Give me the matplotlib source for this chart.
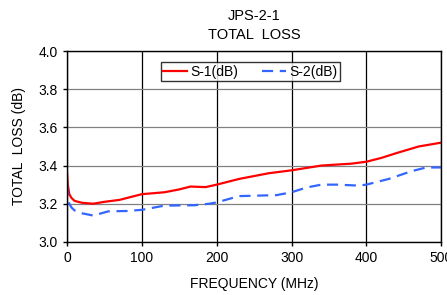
import matplotlib
matplotlib.use("Agg")
import matplotlib.pyplot as plt

plt.rcParams["font.family"] = ["Liberation Sans", "DejaVu Sans"]

# frequency points (MHz) and total loss (dB)
freq_s1 = [0, 1, 3, 6, 10, 20, 35, 50, 70, 100, 130, 150, 165, 185, 200,
           230, 270, 300, 340, 380, 400, 420, 440, 470, 500]
loss_s1 = [3.36, 3.30, 3.25, 3.23, 3.215, 3.205, 3.20, 3.21, 3.22, 3.25, 3.26,
           3.275, 3.29, 3.287, 3.30, 3.33, 3.36, 3.375, 3.40, 3.41, 3.42,
           3.44, 3.465, 3.50, 3.52]

freq_s2 = [0, 1, 3, 6, 10, 20, 35, 55, 80, 100, 130, 170, 190, 200, 230,
           280, 300, 320, 340, 360, 390, 400, 430, 460, 480, 500]
loss_s2 = [3.30, 3.24, 3.20, 3.18, 3.165, 3.15, 3.138, 3.16, 3.162, 3.168,
           3.19, 3.192, 3.20, 3.207, 3.24, 3.245, 3.26, 3.285, 3.30, 3.30,
           3.295, 3.30, 3.33, 3.37, 3.39, 3.39]

fig = plt.figure(figsize=(4.47, 2.95), dpi=100)
ax = fig.add_axes([0.150, 0.180, 0.837, 0.647])

ax.plot(freq_s1, loss_s1, color="#ff0000", linewidth=1.6, label="S-1(dB)")
ax.plot(freq_s2, loss_s2, color="#3366ff", linewidth=1.6, linestyle=(0, (5, 3)),
        label="S-2(dB)")

ax.set_xlim(0, 500)
ax.set_ylim(3.0, 4.0)
ax.set_xticks([0, 100, 200, 300, 400, 500])
ax.set_yticks([3.0, 3.2, 3.4, 3.6, 3.8, 4.0])
ax.yaxis.set_major_formatter(plt.FormatStrFormatter("%.1f"))
ax.tick_params(labelsize=10, direction="out", length=3, width=1)

ax.xaxis.grid(True, color="black", linewidth=0.9)
ax.yaxis.grid(True, color="#808080", linewidth=0.9)
ax.set_axisbelow(True)
for s in ax.spines.values():
    s.set_linewidth(1.0)
    s.set_color("black")

ax.set_xlabel("FREQUENCY (MHz)", fontsize=10, labelpad=9)
ax.set_ylabel("TOTAL  LOSS (dB)", fontsize=10, labelpad=9)
ax.set_title("JPS-2-1\nTOTAL  LOSS", fontsize=10.5, pad=9, linespacing=1.45)

leg = ax.legend(loc="upper center", ncol=2, fontsize=10, frameon=True,
                fancybox=False, edgecolor="black", handlelength=1.7,
                handletextpad=0.25, columnspacing=1.7,
                bbox_to_anchor=(0.49, 0.98), borderpad=0.2)
leg.get_frame().set_linewidth(1.0)

fig.savefig("out.png", dpi=100)
